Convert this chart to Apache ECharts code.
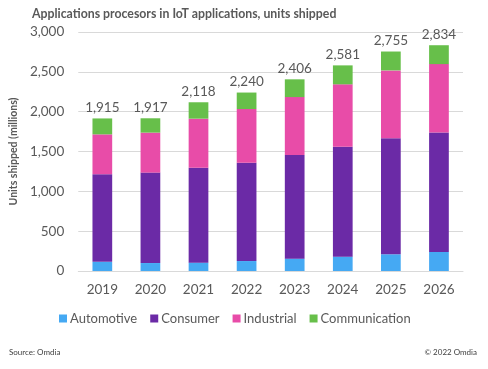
<!DOCTYPE html>
<html>
<head>
<meta charset="utf-8">
<script src="https://cdn.jsdelivr.net/npm/echarts@6/dist/echarts.min.js"></script>
<style>
html,body{margin:0;padding:0;background:#fff;}
#chart{width:488px;height:369px;}
</style>
</head>
<body>
<div id="chart"></div>
<script>
var years = ['2019','2020','2021','2022','2023','2024','2025','2026'];
var automotive = [115, 100, 105, 125, 155, 180, 210, 240];
var consumer = [1100, 1135, 1192, 1235, 1300, 1381, 1455, 1497];
var industrial = [500, 502, 615, 673, 728, 782, 853, 860];
var communication = [200, 180, 206, 207, 223, 238, 237, 237];
var totals = [1915, 1917, 2118, 2240, 2406, 2581, 2755, 2834];
var yTicks = [0, 500, 1000, 1500, 2000, 2500, 3000];

var FONT = 'Lato, "Open Sans", sans-serif';
var TXT = '#595959';
function fmt(v){ return v.toLocaleString('en-US'); }

var chart = echarts.init(document.getElementById('chart'));
function mk(name, data, color, withLabel){
  var s = {
    name: name, type: 'bar', stack: 'total', data: data, barWidth: '41%',
    itemStyle: { color: color }
  };
  if (withLabel) {
    s.label = {
      show: true, position: 'top', distance: 4, color: TXT, fontSize: 13.5, fontFamily: FONT,
      formatter: function(p){ return fmt(totals[p.dataIndex]); }
    };
  }
  return s;
}
chart.setOption({
  animation: false,
  textStyle: { fontFamily: FONT },
  title: [{
    text: 'Applications procesors in IoT applications, units shipped',
    left: 27, top: 3,
    textStyle: { fontSize: 12.3, fontWeight: 'bold', color: TXT, fontFamily: FONT }
  }],
  graphic: [
    { type: 'text', left: 9, top: 348, style: { text: 'Source: Omdia', fontSize: 8, fill: '#404040', fontFamily: FONT } },
    { type: 'text', right: 11, top: 348, style: { text: '\u00a9 2022 Omdia', fontSize: 8, fill: '#404040', fontFamily: FONT } }
  ],
  legend: {
    top: 307, left: 54,
    itemWidth: 8, itemHeight: 8, itemGap: 13, icon: 'rect',
    textStyle: { color: TXT, fontSize: 13, fontFamily: FONT, padding: [0,0,0,-2] },
    data: ['Automotive','Consumer','Industrial','Communication']
  },
  grid: { left: 72, right: 25, top: 32, bottom: 98 },
  xAxis: {
    type: 'category', data: years,
    axisLine: { show: true, lineStyle: { color: '#d9d9d9' } },
    axisTick: { show: false },
    axisLabel: { color: TXT, fontSize: 13.5, margin: 12, fontFamily: FONT }
  },
  yAxis: {
    type: 'value', min: yTicks[0], max: yTicks[yTicks.length-1], interval: 500,
    name: 'Units shipped (millions)', nameLocation: 'middle', nameGap: 52,
    nameTextStyle: { color: TXT, fontSize: 10.5, fontWeight: 'bold', fontFamily: FONT },
    axisLine: { show: false }, axisTick: { show: false },
    axisLabel: { color: TXT, fontSize: 13.5, margin: 14, fontFamily: FONT, formatter: function(v){ return fmt(v); } },
    splitLine: { lineStyle: { color: '#d9d9d9' } }
  },
  series: [
    mk('Automotive', automotive, '#45a9f3', false),
    mk('Consumer', consumer, '#6b2aa6', false),
    mk('Industrial', industrial, '#e84ca8', false),
    mk('Communication', communication, '#67bf4a', true)
  ]
});
</script>
</body>
</html>
